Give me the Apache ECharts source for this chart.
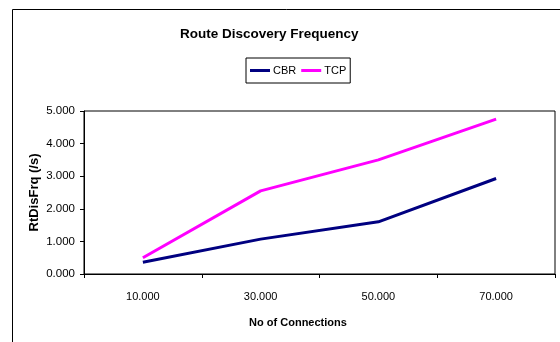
<!DOCTYPE html>
<html>
<head>
<meta charset="utf-8">
<script src="https://cdn.jsdelivr.net/npm/echarts@6/dist/echarts.min.js"></script>
<style>
  html, body { margin: 0; padding: 0; background: #fff; }
  #chart { width: 560px; height: 342px; }
</style>
</head>
<body>
<div id="chart"></div>
<script>
// Number of connections on the x axis
const connections = ['10.000', '30.000', '50.000', '70.000'];
// Route discovery frequency per traffic type (/s)
const cbrValues = [0.36, 1.07, 1.60, 2.93];
const tcpValues = [0.50, 2.55, 3.50, 4.75];
// Value axis ticks
const yTicks = [0, 1, 2, 3, 4, 5];

const chart = echarts.init(document.getElementById('chart'), null, { renderer: 'canvas' });

const font = 'Liberation Sans, Arial, sans-serif';

chart.setOption({
  animation: false,
  backgroundColor: '#fff',
  graphic: [{
    type: 'rect',
    shape: { x: 12.5, y: 9.5, width: 600, height: 400 },
    style: { fill: 'none', stroke: '#000', lineWidth: 1 },
    z: -1
  }],
  title: {
    text: 'Route Discovery Frequency',
    left: 180,
    top: 27,
    padding: 0,
    textStyle: { fontFamily: font, fontSize: 13.5, fontWeight: 'bold', color: '#000' }
  },
  legend: {
    data: ['CBR', 'TCP'],
    left: 246,
    top: 58,
    padding: [7, 4, 7, 4],
    itemWidth: 20,
    itemHeight: 3,
    itemGap: 5,
    borderColor: '#000',
    borderWidth: 1,
    textStyle: { fontFamily: font, fontSize: 11, color: '#000', padding: [0, 0, 0, -2] },
    icon: 'rect'
  },
  grid: {
    left: 84,
    top: 111,
    width: 471,
    height: 163,
    show: true,
    borderColor: '#000',
    borderWidth: 1,
    containLabel: false
  },
  xAxis: {
    type: 'category',
    data: connections,
    boundaryGap: true,
    name: 'No of Connections',
    nameLocation: 'middle',
    nameGap: 43,
    nameMoveOverlap: false,
    nameTextStyle: { fontFamily: font, fontSize: 11, fontWeight: 'bold', color: '#000', padding: [0, 43, 0, 0] },
    axisLine: { lineStyle: { color: '#000', width: 1 } },
    axisTick: { show: true, length: 4, alignWithLabel: false, lineStyle: { color: '#000' } },
    axisLabel: { fontFamily: font, fontSize: 11, color: '#000', margin: 17 },
    splitLine: { show: false }
  },
  yAxis: {
    type: 'value',
    min: yTicks[0],
    max: yTicks[yTicks.length - 1],
    interval: 1,
    name: 'RtDisFrq (/s)',
    nameLocation: 'middle',
    nameGap: 43,
    nameMoveOverlap: false,
    nameRotate: 90,
    nameTextStyle: { fontFamily: font, fontSize: 13, fontWeight: 'bold', color: '#000' },
    axisLine: { show: true, lineStyle: { color: '#000', width: 1 } },
    axisTick: { show: true, length: 4, lineStyle: { color: '#000' } },
    axisLabel: {
      fontFamily: font, fontSize: 11.5, color: '#000', margin: 9,
      formatter: v => v.toFixed(3)
    },
    splitLine: { show: false }
  },
  series: [
    {
      name: 'CBR',
      type: 'line',
      data: cbrValues,
      symbol: 'none',
      color: '#000080',
      lineStyle: { color: '#000080', width: 3 }
    },
    {
      name: 'TCP',
      type: 'line',
      data: tcpValues,
      symbol: 'none',
      color: '#FF00FF',
      lineStyle: { color: '#FF00FF', width: 3 }
    }
  ]
});
</script>
</body>
</html>
